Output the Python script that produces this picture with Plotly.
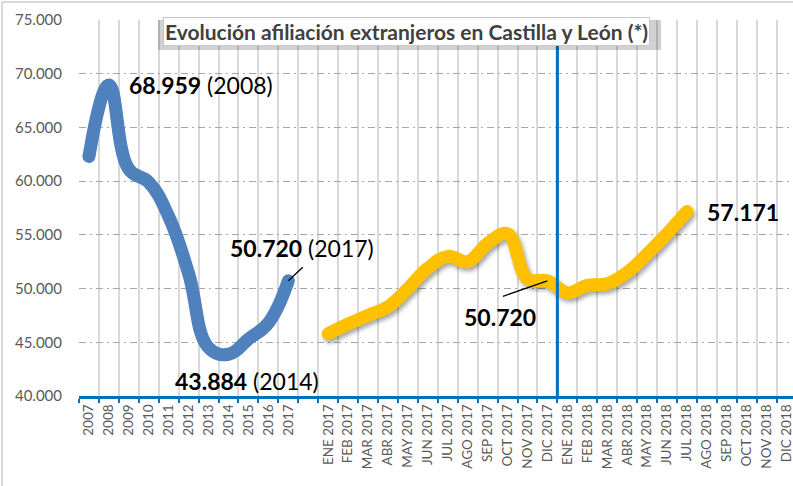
import plotly.graph_objects as go

years = ["2007", "2008", "2009", "2010", "2011", "2012", "2013", "2014", "2015", "2016", "2017"]
years_vals = [62300, 68959, 61100, 59900, 56700, 51400, 44500, 43884, 45300, 46800, 50720]

months = ["ENE 2017", "FEB 2017", "MAR 2017", "ABR 2017", "MAY 2017", "JUN 2017", "JUL 2017",
          "AGO 2017", "SEP 2017", "OCT 2017", "NOV 2017", "DIC 2017",
          "ENE 2018", "FEB 2018", "MAR 2018", "ABR 2018", "MAY 2018", "JUN 2018", "JUL 2018",
          "AGO 2018", "SEP 2018", "OCT 2018", "NOV 2018", "DIC 2018"]
months_vals = [45800, 46700, 47500, 48300, 50000, 51900, 53000, 52500, 54200, 55100, 50900, 50720,
               49600, 50300, 50450, 51500, 53200, 55100, 57171]

gap = [" "]
categories = years + gap + months
y_ticks = [40000, 45000, 50000, 55000, 60000, 65000, 70000, 75000]

title_text = "Evolución afiliación extranjeros en Castilla y León (*)"

FONT = "Lato"
BLUE = "#4F81BD"
YELLOW = "#FFC000"
AXIS_BLUE = "#0070C0"

fig = go.Figure()

fig.add_trace(go.Scatter(
    x=years, y=years_vals, mode="lines",
    line=dict(color=BLUE, width=13, shape="spline", smoothing=1.2),
    hoverinfo="skip", showlegend=False))

fig.add_trace(go.Scatter(
    x=months[:len(months_vals)], y=months_vals, mode="lines",
    line=dict(color=YELLOW, width=13, shape="spline", smoothing=1.1),
    hoverinfo="skip", showlegend=False))

# plot area geometry (pixels) for paper conversions
L, R, T, B = 79, 793, 20, 396
def px(x):
    return (x - L) / (R - L)
def py(y):
    return (B - y) / (B - T)

def cat(label):
    return categories.index(label)

shapes = [
    # divider between 2017 and 2018
    dict(type="line", xref="x", yref="paper", x0=cat("DIC 2017") + 0.5, x1=cat("DIC 2017") + 0.5,
         y0=0, y1=1, line=dict(color=AXIS_BLUE, width=3), layer="above"),
    # title box shadow
    dict(type="rect", xref="paper", yref="paper",
         x0=px(158), x1=px(661), y0=py(50), y1=py(20),
         fillcolor="rgba(0,0,0,0.18)", line=dict(width=0), layer="above"),
    # chart frame
    dict(type="line", xref="paper", yref="paper", x0=px(2), x1=px(793), y0=py(2), y1=py(2),
         line=dict(color="#D9D9D9", width=2)),
    dict(type="line", xref="paper", yref="paper", x0=px(2), x1=px(2), y0=py(2), y1=py(486),
         line=dict(color="#D9D9D9", width=2)),
]

NUMF = dict(family=FONT, size=23, color="black")
ann = []
ann.append(dict(text=title_text, xref="paper", yref="paper", x=px(406), y=py(32),
                xanchor="center", yanchor="middle", showarrow=False,
                font=dict(family=FONT, size=21, color="#404040", weight="bold"),
                bgcolor="white", bordercolor="#C8C8C8", borderwidth=1, borderpad=1))
ann.append(dict(text="<b>68.959</b> (2008)", x=cat("2008"), y=years_vals[1], xref="x", yref="y",
                xanchor="left", yanchor="middle", xshift=18, yshift=0, showarrow=False,
                font=NUMF))
ann.append(dict(text="<b>50.720</b> (2017)", x=cat("2017"), y=years_vals[-1], xref="x", yref="y",
                xanchor="center", yanchor="middle", xshift=14, yshift=33, showarrow=False,
                font=NUMF))
ann.append(dict(text="", x=cat("2017"), y=years_vals[-1], xref="x", yref="y",
                showarrow=True, arrowhead=0, arrowwidth=1.3, arrowcolor="black",
                ax=16, ay=-15, standoff=0))
ann.append(dict(text="<b>43.884</b> (2014)", x=cat("2014"), y=years_vals[7], xref="x", yref="y",
                xanchor="center", yanchor="middle", xshift=18, yshift=-27, showarrow=False,
                font=NUMF))
ann.append(dict(text="<b>50.720</b>", x=cat("DIC 2017"), y=months_vals[11], xref="x", yref="y",
                xanchor="center", yanchor="middle", xshift=-47, yshift=-36, showarrow=False,
                font=NUMF))
ann.append(dict(text="", x=cat("DIC 2017"), y=months_vals[11], xref="x", yref="y",
                showarrow=True, arrowhead=0, arrowwidth=1.3, arrowcolor="black",
                ax=-46, ay=16, standoff=0))
ann.append(dict(text="<b>57.171</b>", x=cat("JUL 2018"), y=months_vals[-1], xref="x", yref="y",
                xanchor="left", yanchor="middle", xshift=18, yshift=0, showarrow=False,
                font=NUMF))

fig.update_layout(
    width=793, height=486,
    margin=dict(l=L, r=0, t=T, b=486 - B, pad=0, autoexpand=False),
    paper_bgcolor="white", plot_bgcolor="white",
    separators=",.",
    font=dict(family=FONT, color="#595959"),
    shapes=shapes, annotations=ann,
    showlegend=False,
)

fig.update_xaxes(
    type="category", categoryorder="array", categoryarray=categories,
    range=[-0.5, 35.32], tickson="boundaries", automargin=False,
    ticks="outside", ticklen=4, tickwidth=2, tickcolor=AXIS_BLUE,
    showline=True, linecolor=AXIS_BLUE, linewidth=3,
    showgrid=True, gridcolor="#D9D9D9", gridwidth=1.5,
    tickangle=-90, tickfont=dict(family=FONT, size=13.5, color="#595959"),
    fixedrange=True,
)
fig.update_yaxes(
    range=[40000, 75000], tickvals=y_ticks, tickformat=",.0f", automargin=False,
    showgrid=True, gridcolor="#A6A6A6", gridwidth=1, griddash="7px,4px,2px,4px",
    zeroline=False, showline=False, ticks="", ticklabelstandoff=16,
    tickfont=dict(family=FONT, size=15, color="#595959"),
    fixedrange=True,
)

post = """
document.body.style.margin='0';
document.body.style.overflow='hidden';
var lines = document.querySelectorAll('.scatterlayer .js-line');
lines.forEach(function(p){ p.style.strokeLinecap='round'; p.style.strokeLinejoin='round'; });
if (lines.length > 1) {
  lines[1].style.filter = 'drop-shadow(2px 3px 2px rgba(0,0,0,0.35))';
}
"""

fig.write_html("out.html", config={"displayModeBar": False}, post_script=post)
